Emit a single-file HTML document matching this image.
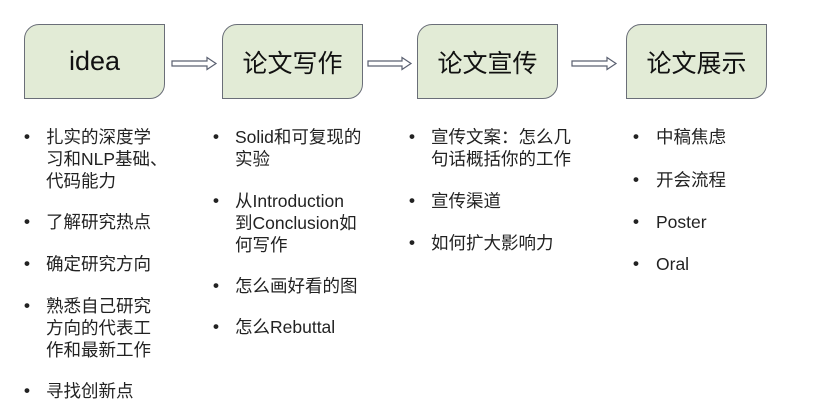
<!DOCTYPE html>
<html><head><meta charset="utf-8"><style>
body{margin:0;width:814px;height:420px;background:#fff;position:relative;overflow:hidden;font-family:"Liberation Sans","Noto Sans CJK SC",sans-serif;color:#222}
.box{position:absolute;top:24px;width:141px;height:75px;background:#e2ebd6;border:1.5px solid #6a6e78;border-radius:15px 0 15px 0;box-sizing:border-box;display:flex;align-items:center;justify-content:center;font-size:25px;color:#111}
.t{position:absolute;font-size:17.5px;line-height:22px;white-space:nowrap;color:#222}
.b{position:absolute;font-size:17px;line-height:22px;color:#222;font-weight:bold}
svg{position:absolute;left:0;top:0}
</style></head><body>
<div class="box" style="left:24px;font-size:27px">idea</div>
<div class="box" style="left:222px">论文写作</div>
<div class="box" style="left:417px">论文宣传</div>
<div class="box" style="left:626px">论文展示</div>
<svg width="814" height="420">
<g fill="#fff" stroke="#5a6070" stroke-width="1.2">
<path d="M172,61 H207 V57.5 L216,63.5 L207,69.5 V66 H172 Z"/>
<path d="M368,61 H402 V57.5 L411,63.5 L402,69.5 V66 H368 Z"/>
<path d="M572,61 H607 V57.5 L616,63.5 L607,69.5 V66 H572 Z"/>
</g></svg>
<!-- col1 -->
<div class="b" style="left:24px;top:126px">•</div>
<div class="t" style="left:46px;top:126px">扎实的深度学</div>
<div class="t" style="left:46px;top:148px">习和NLP基础、</div>
<div class="t" style="left:46px;top:170px">代码能力</div>
<div class="b" style="left:24px;top:211px">•</div>
<div class="t" style="left:46px;top:211px">了解研究热点</div>
<div class="b" style="left:24px;top:253px">•</div>
<div class="t" style="left:46px;top:253px">确定研究方向</div>
<div class="b" style="left:24px;top:295px">•</div>
<div class="t" style="left:46px;top:295px">熟悉自己研究</div>
<div class="t" style="left:46px;top:317px">方向的代表工</div>
<div class="t" style="left:46px;top:339px">作和最新工作</div>
<div class="b" style="left:24px;top:380px">•</div>
<div class="t" style="left:46px;top:380px">寻找创新点</div>
<!-- col2 -->
<div class="b" style="left:213px;top:126px">•</div>
<div class="t" style="left:235px;top:126px">Solid和可复现的</div>
<div class="t" style="left:235px;top:148px">实验</div>
<div class="b" style="left:213px;top:190px">•</div>
<div class="t" style="left:235px;top:190px">从Introduction</div>
<div class="t" style="left:235px;top:212px">到Conclusion如</div>
<div class="t" style="left:235px;top:234px">何写作</div>
<div class="b" style="left:213px;top:275px">•</div>
<div class="t" style="left:235px;top:275px">怎么画好看的图</div>
<div class="b" style="left:213px;top:316px">•</div>
<div class="t" style="left:235px;top:316px">怎么Rebuttal</div>
<!-- col3 -->
<div class="b" style="left:409px;top:126px">•</div>
<div class="t" style="left:431px;top:126px">宣传文案：怎么几</div>
<div class="t" style="left:431px;top:148px">句话概括你的工作</div>
<div class="b" style="left:409px;top:190px">•</div>
<div class="t" style="left:431px;top:190px">宣传渠道</div>
<div class="b" style="left:409px;top:232px">•</div>
<div class="t" style="left:431px;top:232px">如何扩大影响力</div>
<!-- col4 -->
<div class="b" style="left:633px;top:126px">•</div>
<div class="t" style="left:656px;top:126px">中稿焦虑</div>
<div class="b" style="left:633px;top:169px">•</div>
<div class="t" style="left:656px;top:169px">开会流程</div>
<div class="b" style="left:633px;top:211px">•</div>
<div class="t" style="left:656px;top:211px">Poster</div>
<div class="b" style="left:633px;top:253px">•</div>
<div class="t" style="left:656px;top:253px">Oral</div>
</body></html>
